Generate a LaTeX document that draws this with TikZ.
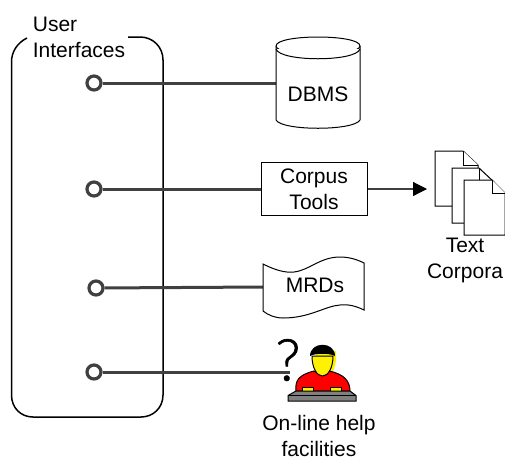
\documentclass[tikz,border=0pt]{standalone}
\usepackage{fontspec}
\setmainfont{Liberation Sans}
\newfontfamily\qmarkfont[FakeBold=1]{Lato Light}
\usetikzlibrary{arrows.meta}
\definecolor{linkgray}{RGB}{64,64,64}
\tikzset{
    port/.style={circle, draw=linkgray, line width=3.2pt, fill=white, inner sep=0pt, minimum size=14pt},
    link/.style={draw=linkgray, line width=3pt},
    outline/.style={draw=black, line width=1.5pt},
    sheet/.style={draw=black, line width=1pt, fill=white},
    lbl/.style={font=\fontsize{21pt}{26pt}\selectfont, align=center, inner sep=0pt}
}
\begin{document}
\begin{tikzpicture}[x=1pt,y=-1pt]
\useasboundingbox (0,0) rectangle (505,459);

% the ports
\node[port] (p1) at (94,83) {};
\node[port] (p2) at (94,189) {};
\node[port] (p3) at (96,288) {};
\node[port] (p4) at (94,372) {};

% the rounded frame, open at the top
\draw[outline] (27,38) .. controls (17,43) and (11.5,52) .. (11.5,62) -- (11.5,395) .. controls (11.5,408) and (21,417) .. (33,417) -- (141,417) .. controls (153,417) and (163,408) .. (163,395) -- (163,60) .. controls (163,47) and (153,37) .. (140,37) -- (128,37);
\node[lbl, align=left] (ui) at (79,37.5) {User\\Interfaces};

% the database
\coordinate (dbmsedge) at (276,83);
\draw[link] (p1) -- (dbmsedge);
\draw[sheet] (276,46) -- (276,120) .. controls (282,131) and (354,131) .. (360,120) -- (360,46);
\draw[sheet] (276,46) .. controls (276,34) and (360,34) .. (360,46) .. controls (360,57) and (276,57) .. (276,46);
\draw[sheet] (276,49) .. controls (280,62) and (356,62) .. (360,49);
\node[lbl] (dbms) at (318,94) {DBMS};

% the tools and the text corpora
\node[rectangle, draw=black, line width=1pt, minimum width=106pt, minimum height=53pt, lbl] (tools) at (314,189) {Corpus\\Tools};
\draw[link] (p2) -- (tools);
\draw[sheet] (435,151) -- (463,151) -- (478,165) -- (478,206) -- (435,206) -- cycle;
\draw[sheet] (463,151) -- (463,165) -- (478,165);
\draw[sheet] (452,168) -- (479,168) -- (494,182) -- (494,223) -- (452,223) -- cycle;
\draw[sheet] (479,168) -- (479,182);
\draw[sheet] (464,180) -- (492,180) -- (505,193) -- (505,235) -- (464,235) -- cycle;
\draw[sheet] (492,180) -- (492,193) -- (505,193);
\coordinate (pages) at (427,189);
\draw[draw=linkgray, line width=1.2pt, -{Triangle[length=14pt,width=14pt,fill=black,color=black]}] (tools) -- (pages);
\node[lbl] (corpora) at (465,260.5) {Text\\Corpora};

% the dictionaries
\coordinate (mrdsedge) at (263,287);
\draw[link] (p3) -- (mrdsedge);
\draw[sheet] (263,264) .. controls (275,270) and (285,273) .. (294,272) .. controls (310,270) and (320,257) .. (340,257) .. controls (350,257) and (358,260) .. (364,263) -- (364,310) .. controls (356,306) and (348,304) .. (340,305) .. controls (325,306) and (310,318) .. (283,318) .. controls (275,318) and (268,315) .. (263,311) -- cycle;
\node[lbl] (mrds) at (315,285) {MRDs};

% the person at the keyboard
\coordinate (helpedge) at (290,372);
\draw[link] (p4) -- (helpedge);
\node[inner sep=0pt, font=\qmarkfont\fontsize{58pt}{58pt}\selectfont] (qmark) at (288,360) {?};
\fill[yellow] (316,351) .. controls (316,368) and (320,375) .. (327,375) .. controls (333,375) and (337,366) .. (336,351) -- cycle;
\draw[line width=1pt, fill=red] (296,391) .. controls (295,381) and (298,375) .. (314,371) .. controls (317,374) and (327,374) .. (329,371) .. controls (344,374) and (350,381) .. (350,391) -- cycle;
\draw[line width=1pt, fill=yellow] (312,356) .. controls (312,368) and (317,376) .. (322.5,376) .. controls (328,376) and (333,368) .. (333,356) -- cycle;
\fill[black] (310,356) .. controls (310,341) and (335,341) .. (335,356) .. controls (330,353) and (315,353) .. (310,356) -- cycle;
\draw[line width=.6pt, fill=yellow] (302,387) rectangle (313,391);
\draw[line width=.6pt, fill=yellow] (330,387) rectangle (341,391);
\draw[line width=1pt, fill=gray] (296,391) -- (350,391) -- (356,395.5) -- (356,401) -- (288,401) -- (288,395.5) -- cycle;
\draw[line width=.7pt] (288,395.5) -- (356,395.5);
\node[lbl] (help) at (319,435.5) {On-line help\\facilities};
\end{tikzpicture}
\end{document}
